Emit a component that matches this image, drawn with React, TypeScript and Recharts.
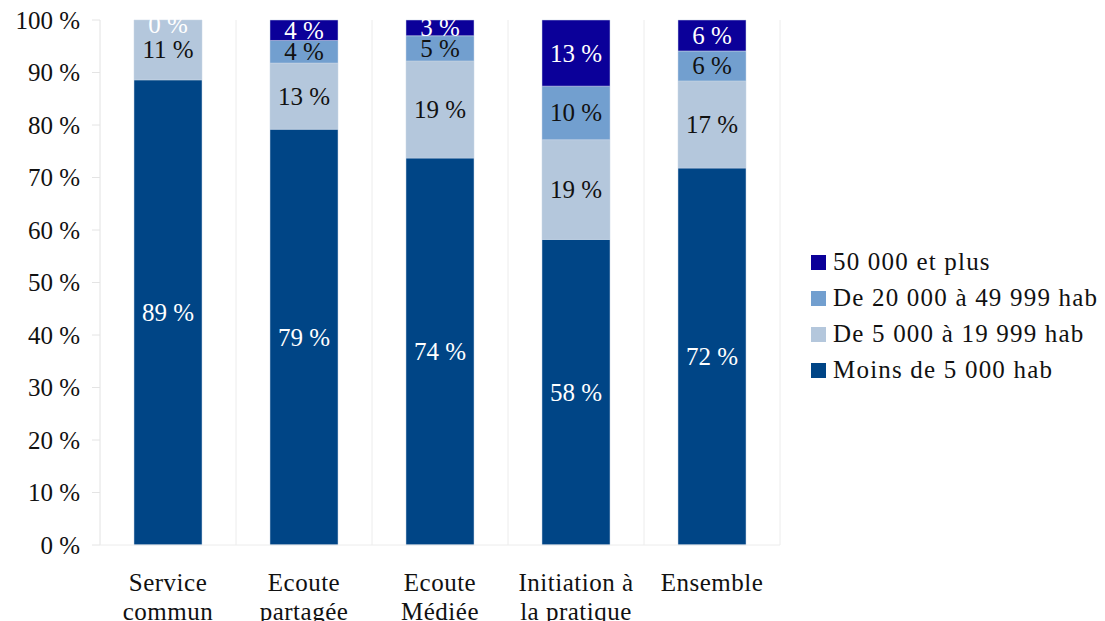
import { BarChart, Bar, XAxis, YAxis, CartesianGrid, LabelList } from "recharts"

const categories = [
  "Service commun",
  "Ecoute partagée",
  "Ecoute Médiée",
  "Initiation à la pratique",
  "Ensemble",
]
const tickLines = [
  ["Service", "commun"],
  ["Ecoute", "partagée"],
  ["Ecoute", "Médiée"],
  ["Initiation à", "la pratique"],
  ["Ensemble"],
]

const moins5000 = [88.6, 79.2, 73.7, 58.2, 71.8]
const de5000 = [11.4, 12.6, 18.5, 19.0, 16.6]
const de20000 = [0, 4.3, 4.8, 10.2, 5.7]
const plus50000 = [0, 3.9, 3.0, 12.6, 5.9]

const yTicks = [0, 10, 20, 30, 40, 50, 60, 70, 80, 90, 100]

const series = [
  { key: "moins", name: "Moins de 5 000 hab", color: "#004586", text: "#ffffff" },
  { key: "de5", name: "De 5 000 à 19 999 hab", color: "#b4c7dc", text: "#111111" },
  { key: "de20", name: "De 20 000 à 49 999 hab", color: "#729fcf", text: "#111111" },
  { key: "plus", name: "50 000 et plus", color: "#0b0099", text: "#ffffff" },
]

const data = categories.map((c, i) => ({
  name: c,
  moins: moins5000[i],
  de5: de5000[i],
  de20: de20000[i],
  plus: plus50000[i],
}))

const font = "'Liberation Serif', 'Times New Roman', serif"

function CatTick(props: any) {
  const { x, y, index } = props
  const lines = tickLines[index] || []
  return (
    <text x={x} y={y} textAnchor="middle" fill="#111" fontSize={25} fontFamily={font} letterSpacing={0.5}>
      {lines.map((l: string, i: number) => (
        <tspan key={i} x={x} dy={i === 0 ? 44 : 29}>{l}</tspan>
      ))}
    </text>
  )
}

function makeLabel(color: string, key: string) {
  return (p: any) => {
    const cx = Number(p.x) + Number(p.width) / 2
    const cy = Number(p.y) + Number(p.height) / 2
    const i = Number(p.index)
    // zero-height segments on top get no label from recharts: draw "0 %" at the top edge
    const zeroAbove = key === "de5" && de20000[i] === 0 && plus50000[i] === 0
    return (
      <g>
        <text
          x={cx}
          y={cy}
          textAnchor="middle"
          dominantBaseline="central"
          fill={color}
          fontSize={25}
          fontFamily={font}
        >
          {`${Math.round(Number(p.value))} %`}
        </text>
        {zeroAbove && (
          <text
            x={cx}
            y={Number(p.y) + 4}
            textAnchor="middle"
            dominantBaseline="central"
            fill="#ffffff"
            fontSize={25}
            fontFamily={font}
          >
            {`${Math.round(plus50000[i])} %`}
          </text>
        )}
      </g>
    )
  }
}

function LegendBox() {
  const items = [...series].reverse()
  return (
    <div
      style={{
        position: "absolute",
        left: 811,
        top: 244,
        fontFamily: font,
        fontSize: 25,
        color: "#111",
        whiteSpace: "nowrap",
      }}
    >
      {items.map((s) => (
        <div key={s.key} style={{ display: "flex", alignItems: "center", height: 36 }}>
          <span style={{ width: 15, height: 15, background: s.color, marginRight: 7, display: "inline-block" }} />
          <span style={{ letterSpacing: 1.2 }}>{s.name}</span>
        </div>
      ))}
    </div>
  )
}

export default function App() {
  return (
    <div style={{ position: "absolute", left: 0, top: 0, width: 1105, height: 621, background: "#fff" }}>
      <BarChart
        width={1105}
        height={621}
        data={data}
        margin={{ top: 20, right: 325, bottom: 0, left: 0 }}
        barCategoryGap="25%"
      >
        <CartesianGrid
          horizontal={false}
          stroke="#ececec"
          verticalCoordinatesGenerator={({ offset }: any) =>
            categories
              .map((_, i) => offset.left + (i * offset.width) / categories.length)
              .concat(offset.left + offset.width)
          }
        />
        <XAxis
          dataKey="name"
          height={76}
          tick={<CatTick />}
          tickLine={false}
          tickSize={0}
          axisLine={{ stroke: "#ececec" }}
          interval={0}
        />
        <YAxis
          width={100}
          domain={[0, 100]}
          ticks={yTicks}
          tickFormatter={(v: number) => `${v} %`}
          tick={{ fill: "#111", fontSize: 25, fontFamily: font }}
          tickSize={8}
          tickMargin={12}
          tickLine={{ stroke: "#e4e4e4" }}
          axisLine={{ stroke: "#ececec" }}
        />
        {series.map((s) => (
          <Bar
            key={s.key}
            dataKey={s.key}
            name={s.name}
            stackId="a"
            fill={s.color}
            stroke="#c9d6e6"
            strokeWidth={0.5}
            isAnimationActive={false}
          >
            <LabelList dataKey={s.key} content={makeLabel(s.text, s.key)} />
          </Bar>
        ))}
      </BarChart>
      <LegendBox />
    </div>
  )
}
